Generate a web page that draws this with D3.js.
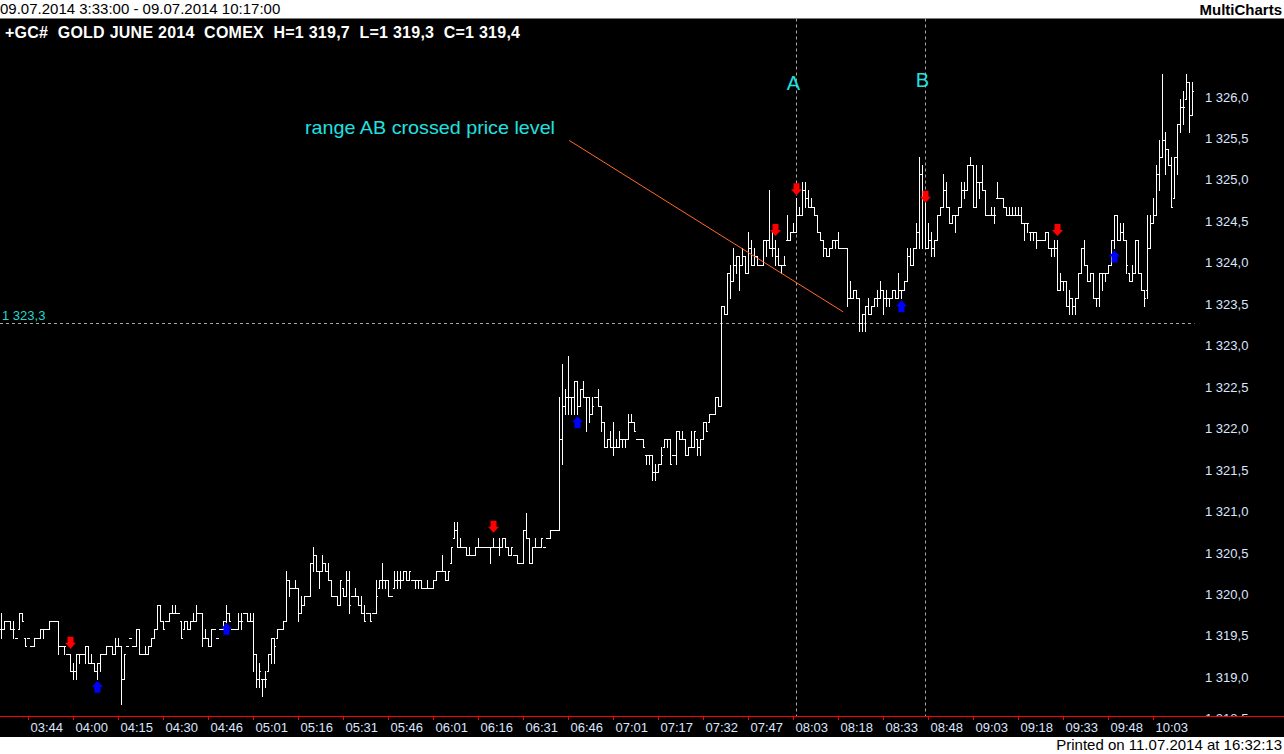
<!DOCTYPE html>
<html><head><meta charset="utf-8">
<script src="https://cdn.jsdelivr.net/npm/d3@7"></script>
<style>
html,body{margin:0;padding:0;background:#fff;overflow:hidden;}
svg{display:block;}
text{white-space:pre;}
</style></head>
<body><svg id="c" width="1284" height="754"></svg>
<script>
// ---------------- DATA ----------------
const openP = [
1319.6,1319.6,1319.7,1319.7,1319.6,1319.5,1319.6,1319.8,1319.5,1319.5,
1319.4,1319.4,1319.5,1319.5,1319.6,1319.6,1319.6,1319.7,1319.7,1319.7,
1319.4,1319.4,1319.3,1319.3,1319.1,1319.1,1319.3,1319.3,1319.3,1319.4,
1319.2,1319.2,1319.1,1319.2,1319.3,1319.3,1319.4,1319.4,1319.3,1319.4,
1319.4,1319.0,1319.4,1319.5,1319.4,1319.4,1319.6,1319.3,1319.3,1319.3,
1319.4,1319.5,1319.6,1319.9,1319.7,1319.7,1319.7,1319.8,1319.8,1319.8,
1319.7,1319.6,1319.7,1319.6,1319.7,1319.7,1319.8,1319.8,1319.5,1319.5,
1319.4,1319.6,1319.5,1319.6,1319.6,1319.7,1319.8,1319.6,1319.6,1319.6,
1319.7,1319.8,1319.8,1319.7,1319.7,1319.3,1319.0,1319.0,1319.0,1319.1,
1319.3,1319.5,1319.5,1319.6,1319.6,1319.7,1320.2,1320.1,1320.1,1320.1,
1319.8,1319.9,1320.0,1320.0,1320.4,1320.5,1320.3,1320.3,1320.4,1320.3,
1320.2,1320.0,1320.0,1319.9,1320.1,1320.0,1320.2,1320.0,1320.0,1320.0,
1319.9,1319.8,1319.8,1319.8,1319.8,1319.8,1320.1,1320.2,1320.2,1320.2,
1320.0,1320.1,1320.2,1320.2,1320.2,1320.3,1320.2,1320.2,1320.2,1320.2,
1320.2,1320.1,1320.1,1320.1,1320.1,1320.2,1320.3,1320.3,1320.3,1320.2,
1320.4,1320.7,1320.8,1320.6,1320.6,1320.6,1320.5,1320.5,1320.5,1320.6,
1320.6,1320.6,1320.6,1320.6,1320.6,1320.6,1320.6,1320.6,1320.7,1320.6,
1320.5,1320.5,1320.5,1320.4,1320.4,1320.8,1320.7,1320.4,1320.6,1320.6,
1320.6,1320.6,1320.7,1320.7,1320.8,1320.8,1320.8,1321.9,1322.3,1322.4,
1322.4,1322.4,1322.6,1322.3,1322.5,1322.4,1322.4,1322.2,1322.4,1322.4,
1322.3,1322.1,1321.8,1321.9,1321.8,1321.8,1321.8,1321.9,1321.9,1321.9,
1322.1,1322.1,1321.9,1321.9,1321.9,1321.7,1321.7,1321.7,1321.5,1321.5,
1321.6,1321.8,1321.9,1321.9,1321.7,1321.7,1322.0,1321.9,1321.9,1321.7,
1321.8,1321.8,1321.9,1321.8,1321.9,1322.1,1322.1,1322.2,1322.2,1322.4,
1322.3,1323.5,1323.4,1323.9,1323.8,1324.0,1324.1,1324.0,1324.1,1323.9,
1324.2,1324.0,1324.1,1324.0,1324.0,1324.3,1324.3,1324.2,1324.2,1324.1,
1324.0,1324.0,1324.3,1324.3,1324.4,1324.4,1324.6,1324.6,1324.9,1324.8,
1324.7,1324.7,1324.6,1324.4,1324.3,1324.2,1324.1,1324.2,1324.3,1324.3,
1324.2,1324.2,1324.2,1323.6,1323.6,1323.7,1323.6,1323.3,1323.4,1323.5,
1323.4,1323.5,1323.6,1323.6,1323.7,1323.6,1323.6,1323.6,1323.7,1323.6,
1323.7,1323.7,1323.8,1324.1,1324.0,1324.2,1324.4,1325.1,1324.8,1324.2,
1324.3,1324.2,1324.3,1324.6,1324.7,1324.9,1324.7,1324.5,1324.6,1324.6,
1324.7,1324.9,1324.9,1325.2,1325.2,1324.7,1325.0,1325.0,1324.9,1324.6,
1324.6,1324.6,1324.8,1324.8,1324.8,1324.7,1324.6,1324.6,1324.6,1324.6,
1324.6,1324.5,1324.5,1324.4,1324.4,1324.4,1324.3,1324.3,1324.3,1324.4,
1324.2,1324.2,1324.2,1323.7,1323.8,1323.8,1323.5,1323.6,1323.5,1323.6,
1323.9,1324.2,1324.0,1323.8,1323.9,1323.6,1323.6,1323.9,1323.9,1323.9,
1324.0,1324.3,1324.6,1324.3,1324.4,1324.3,1323.9,1323.8,1323.9,1324.3,
1323.9,1323.7,1323.7,1324.2,1324.5,1324.6,1325.1,1325.3,1325.5,1325.4,
1325.2,1324.8,1325.3,1325.7,1325.9,1326.0,1326.2,1325.8];
const highP = [
1319.8,1319.7,1319.7,1319.7,1319.7,1319.5,1319.8,1319.8,1319.5,1319.5,
1319.4,1319.5,1319.5,1319.6,1319.6,1319.6,1319.7,1319.7,1319.7,1319.7,
1319.4,1319.4,1319.3,1319.3,1319.2,1319.3,1319.3,1319.3,1319.4,1319.4,
1319.3,1319.2,1319.2,1319.3,1319.3,1319.4,1319.4,1319.4,1319.5,1319.5,
1319.4,1319.3,1319.4,1319.5,1319.4,1319.6,1319.6,1319.3,1319.4,1319.4,
1319.5,1319.6,1319.9,1319.9,1319.7,1319.7,1319.8,1319.9,1319.9,1319.8,
1319.7,1319.7,1319.7,1319.7,1319.8,1319.9,1319.8,1319.8,1319.6,1319.5,
1319.6,1319.6,1319.5,1319.6,1319.7,1319.9,1319.8,1319.6,1319.6,1319.8,
1319.8,1319.8,1319.8,1319.8,1319.8,1319.3,1319.2,1319.0,1319.1,1319.3,
1319.5,1319.5,1319.6,1319.6,1319.7,1320.3,1320.2,1320.1,1320.2,1320.1,
1320.0,1320.0,1320.0,1320.4,1320.6,1320.5,1320.3,1320.5,1320.4,1320.4,
1320.2,1320.0,1320.0,1320.2,1320.1,1320.3,1320.3,1320.0,1320.1,1320.0,
1320.0,1319.9,1319.8,1319.8,1319.8,1320.2,1320.2,1320.4,1320.2,1320.2,
1320.0,1320.3,1320.3,1320.3,1320.3,1320.3,1320.3,1320.2,1320.2,1320.2,
1320.2,1320.1,1320.2,1320.1,1320.2,1320.3,1320.3,1320.5,1320.3,1320.3,
1320.6,1320.9,1320.9,1320.7,1320.6,1320.6,1320.6,1320.5,1320.6,1320.7,
1320.6,1320.6,1320.6,1320.6,1320.7,1320.6,1320.7,1320.7,1320.7,1320.6,
1320.6,1320.5,1320.5,1320.4,1320.8,1321.0,1320.7,1320.6,1320.7,1320.6,
1320.7,1320.6,1320.7,1320.8,1320.8,1320.8,1322.4,1322.8,1322.5,1322.9,
1322.4,1322.6,1322.6,1322.5,1322.6,1322.4,1322.4,1322.4,1322.4,1322.5,
1322.3,1322.1,1321.9,1322.0,1322.1,1321.9,1322.0,1321.9,1321.9,1322.2,
1322.2,1322.1,1321.9,1321.9,1321.9,1321.7,1321.7,1321.7,1321.6,1321.6,
1321.8,1321.9,1321.9,1321.9,1321.7,1322.0,1322.0,1322.0,1321.9,1321.8,
1322.0,1322.0,1321.9,1321.9,1322.1,1322.1,1322.2,1322.2,1322.4,1322.4,
1323.5,1323.5,1323.9,1324.0,1324.2,1324.1,1324.1,1324.2,1324.1,1324.4,
1324.3,1324.2,1324.1,1324.0,1324.3,1324.3,1324.9,1324.4,1324.3,1324.2,
1324.0,1324.1,1324.6,1324.4,1324.5,1324.8,1324.7,1325.0,1325.0,1324.9,
1324.8,1324.7,1324.6,1324.4,1324.3,1324.2,1324.2,1324.3,1324.3,1324.4,
1324.2,1324.2,1324.2,1323.8,1323.7,1323.7,1323.6,1323.4,1323.5,1323.6,
1323.5,1323.6,1323.7,1323.8,1323.7,1323.7,1323.6,1323.7,1323.7,1323.9,
1323.7,1323.8,1324.2,1324.2,1324.2,1324.5,1325.3,1325.2,1324.8,1324.5,
1324.4,1324.3,1324.6,1324.7,1325.1,1325.0,1324.7,1324.6,1324.6,1324.7,
1325.0,1325.0,1325.2,1325.3,1325.2,1325.2,1325.0,1325.2,1324.9,1324.6,
1324.7,1324.7,1325.0,1324.8,1324.8,1324.7,1324.7,1324.7,1324.7,1324.7,
1324.7,1324.5,1324.5,1324.4,1324.4,1324.4,1324.3,1324.3,1324.4,1324.4,
1324.2,1324.3,1324.3,1323.9,1323.8,1323.8,1323.7,1323.6,1323.6,1323.9,
1324.2,1324.3,1324.0,1323.9,1323.9,1323.6,1323.9,1323.9,1323.9,1324.0,
1324.3,1324.6,1324.6,1324.5,1324.5,1324.3,1323.9,1324.0,1324.3,1324.3,
1323.9,1323.7,1324.6,1324.6,1324.8,1325.2,1325.5,1326.3,1325.6,1325.4,
1325.3,1325.3,1325.7,1326.0,1326.1,1326.3,1326.2,1326.2];
const lowP = [
1319.5,1319.6,1319.7,1319.6,1319.5,1319.5,1319.6,1319.7,1319.4,1319.5,
1319.4,1319.4,1319.5,1319.5,1319.5,1319.6,1319.6,1319.7,1319.7,1319.3,
1319.4,1319.3,1319.3,1319.1,1319.0,1319.0,1319.2,1319.3,1319.2,1319.2,
1319.2,1319.1,1319.0,1319.1,1319.3,1319.3,1319.4,1319.3,1319.3,1319.4,
1318.7,1319.0,1319.4,1319.5,1319.4,1319.4,1319.3,1319.3,1319.3,1319.3,
1319.4,1319.5,1319.6,1319.7,1319.6,1319.7,1319.7,1319.8,1319.8,1319.8,
1319.5,1319.6,1319.6,1319.6,1319.7,1319.7,1319.8,1319.4,1319.5,1319.4,
1319.4,1319.6,1319.5,1319.6,1319.6,1319.6,1319.7,1319.6,1319.6,1319.6,
1319.6,1319.8,1319.7,1319.7,1319.1,1318.9,1318.9,1318.8,1318.9,1319.1,
1319.2,1319.2,1319.5,1319.6,1319.6,1319.7,1320.0,1320.1,1320.1,1319.7,
1319.8,1319.9,1320.0,1320.0,1320.3,1320.3,1320.1,1320.3,1320.3,1320.2,
1320.0,1320.0,1319.9,1319.9,1320.0,1320.0,1319.8,1320.0,1320.0,1319.9,
1319.8,1319.7,1319.8,1319.7,1319.8,1319.8,1320.1,1320.1,1320.1,1320.0,
1320.0,1320.1,1320.1,1320.1,1320.2,1320.2,1320.2,1320.2,1320.1,1320.1,
1320.1,1320.1,1320.1,1320.1,1320.1,1320.2,1320.3,1320.3,1320.2,1320.2,
1320.4,1320.7,1320.6,1320.6,1320.6,1320.5,1320.5,1320.5,1320.5,1320.6,
1320.6,1320.6,1320.6,1320.4,1320.6,1320.6,1320.5,1320.6,1320.6,1320.5,
1320.5,1320.5,1320.4,1320.4,1320.4,1320.7,1320.4,1320.4,1320.6,1320.6,
1320.6,1320.6,1320.7,1320.7,1320.8,1320.8,1320.8,1321.6,1322.2,1322.2,
1322.2,1322.2,1322.2,1322.3,1322.4,1322.0,1322.1,1322.2,1322.4,1322.3,
1322.0,1321.8,1321.8,1321.8,1321.7,1321.8,1321.8,1321.8,1321.8,1321.9,
1322.1,1322.0,1321.9,1321.9,1321.8,1321.6,1321.6,1321.4,1321.4,1321.5,
1321.6,1321.8,1321.8,1321.6,1321.7,1321.6,1321.9,1321.9,1321.7,1321.7,
1321.8,1321.8,1321.7,1321.7,1321.9,1322.0,1322.1,1322.2,1322.2,1322.3,
1322.3,1323.4,1323.4,1323.6,1323.8,1323.9,1323.7,1324.0,1323.9,1323.9,
1324.0,1324.0,1324.0,1324.0,1324.0,1324.1,1324.2,1324.1,1324.0,1324.0,
1323.9,1324.0,1324.3,1324.3,1324.4,1324.4,1324.6,1324.6,1324.7,1324.7,
1324.7,1324.6,1324.4,1324.3,1324.1,1324.1,1324.1,1324.2,1324.2,1324.2,
1324.2,1324.2,1323.5,1323.6,1323.6,1323.6,1323.2,1323.2,1323.2,1323.4,
1323.4,1323.5,1323.5,1323.6,1323.4,1323.5,1323.5,1323.6,1323.6,1323.6,
1323.6,1323.7,1323.8,1324.0,1324.0,1324.2,1324.2,1324.2,1324.2,1324.2,
1324.1,1324.1,1324.3,1324.6,1324.7,1324.7,1324.5,1324.5,1324.4,1324.6,
1324.7,1324.8,1324.9,1325.2,1324.7,1324.7,1324.8,1324.9,1324.6,1324.6,
1324.6,1324.5,1324.8,1324.8,1324.7,1324.6,1324.6,1324.6,1324.6,1324.6,
1324.5,1324.3,1324.4,1324.3,1324.3,1324.2,1324.3,1324.3,1324.3,1324.2,
1324.1,1324.1,1323.7,1323.7,1323.7,1323.5,1323.4,1323.4,1323.4,1323.6,
1323.9,1324.0,1323.8,1323.8,1323.6,1323.5,1323.5,1323.7,1323.8,1323.9,
1324.0,1324.2,1324.3,1324.3,1324.3,1323.9,1323.8,1323.8,1323.9,1323.9,
1323.7,1323.5,1323.6,1324.2,1324.5,1324.6,1324.9,1325.3,1325.1,1325.2,
1324.7,1324.8,1325.1,1325.6,1325.7,1326.0,1325.6,1325.8];
const closeP = [
1319.6,1319.7,1319.7,1319.6,1319.6,1319.5,1319.8,1319.7,1319.4,1319.5,
1319.4,1319.5,1319.5,1319.6,1319.6,1319.6,1319.7,1319.7,1319.7,1319.4,
1319.4,1319.4,1319.3,1319.1,1319.1,1319.3,1319.3,1319.3,1319.4,1319.2,
1319.2,1319.1,1319.2,1319.3,1319.3,1319.4,1319.4,1319.3,1319.4,1319.4,
1319.0,1319.3,1319.4,1319.5,1319.4,1319.6,1319.3,1319.3,1319.3,1319.4,
1319.5,1319.6,1319.9,1319.7,1319.6,1319.7,1319.8,1319.8,1319.8,1319.8,
1319.5,1319.7,1319.6,1319.7,1319.7,1319.8,1319.8,1319.5,1319.5,1319.4,
1319.6,1319.6,1319.5,1319.6,1319.7,1319.8,1319.7,1319.6,1319.6,1319.7,
1319.7,1319.8,1319.7,1319.7,1319.3,1319.0,1319.1,1319.0,1319.0,1319.3,
1319.5,1319.4,1319.6,1319.6,1319.7,1320.2,1320.1,1320.1,1320.1,1319.8,
1319.9,1320.0,1320.0,1320.4,1320.5,1320.3,1320.3,1320.4,1320.3,1320.2,
1320.0,1320.0,1319.9,1320.2,1320.0,1320.2,1319.9,1320.0,1320.0,1319.9,
1319.8,1319.7,1319.8,1319.7,1319.8,1320.0,1320.2,1320.2,1320.2,1320.0,
1320.0,1320.2,1320.2,1320.2,1320.3,1320.2,1320.3,1320.2,1320.2,1320.2,
1320.1,1320.1,1320.1,1320.1,1320.2,1320.3,1320.3,1320.3,1320.2,1320.3,
1320.6,1320.8,1320.6,1320.6,1320.6,1320.5,1320.5,1320.5,1320.6,1320.6,
1320.6,1320.6,1320.6,1320.6,1320.6,1320.6,1320.6,1320.7,1320.6,1320.5,
1320.6,1320.5,1320.4,1320.4,1320.8,1320.7,1320.4,1320.6,1320.6,1320.6,
1320.7,1320.6,1320.7,1320.8,1320.8,1320.8,1321.9,1322.3,1322.4,1322.4,
1322.4,1322.6,1322.3,1322.5,1322.4,1322.4,1322.2,1322.3,1322.4,1322.3,
1322.1,1321.8,1321.9,1321.8,1321.8,1321.8,1321.9,1321.9,1321.9,1322.1,
1322.1,1322.0,1321.9,1321.9,1321.8,1321.7,1321.7,1321.5,1321.5,1321.6,
1321.7,1321.9,1321.9,1321.6,1321.7,1322.0,1321.9,1321.9,1321.7,1321.8,
1321.8,1322.0,1321.8,1321.9,1322.1,1322.0,1322.2,1322.2,1322.4,1322.3,
1323.5,1323.4,1323.9,1323.8,1324.0,1324.1,1324.0,1324.1,1323.9,1324.2,
1324.0,1324.1,1324.0,1324.0,1324.3,1324.3,1324.2,1324.2,1324.1,1324.0,
1324.0,1324.0,1324.3,1324.4,1324.4,1324.6,1324.6,1324.9,1324.8,1324.7,
1324.7,1324.6,1324.4,1324.3,1324.2,1324.1,1324.2,1324.3,1324.3,1324.2,
1324.2,1324.2,1323.6,1323.6,1323.7,1323.6,1323.3,1323.4,1323.5,1323.4,
1323.5,1323.6,1323.6,1323.7,1323.6,1323.6,1323.6,1323.7,1323.6,1323.7,
1323.7,1323.8,1324.1,1324.0,1324.2,1324.4,1325.1,1324.8,1324.2,1324.3,
1324.2,1324.3,1324.6,1324.7,1324.9,1324.7,1324.5,1324.6,1324.6,1324.7,
1324.9,1324.9,1325.2,1325.2,1324.7,1325.0,1325.0,1324.9,1324.6,1324.6,
1324.6,1324.6,1324.8,1324.8,1324.7,1324.6,1324.6,1324.6,1324.6,1324.6,
1324.5,1324.5,1324.5,1324.4,1324.4,1324.3,1324.3,1324.3,1324.4,1324.2,
1324.2,1324.2,1323.7,1323.8,1323.8,1323.5,1323.6,1323.5,1323.6,1323.9,
1324.2,1324.0,1323.8,1323.9,1323.6,1323.6,1323.9,1323.9,1323.9,1324.0,
1324.3,1324.6,1324.3,1324.4,1324.3,1324.0,1323.8,1323.9,1324.3,1323.9,
1323.7,1323.6,1324.2,1324.5,1324.6,1325.1,1325.3,1325.5,1325.4,1325.2,
1324.7,1325.3,1325.7,1325.9,1325.9,1326.2,1325.8,1326.1];

const tickLabels = ["03:44","04:00","04:15","04:30","04:46","05:01","05:16","05:31","05:46",
  "06:01","06:16","06:31","06:46","07:01","07:17","07:32","07:47","08:03","08:18","08:33",
  "08:48","09:03","09:18","09:33","09:48","10:03"];
const tickBars = [9,24,39,54,69,84,99,114,129,144,159,174,189,204,219,234,249,264,279,294,
  309,324,339,354,369,384];
const priceTicks = [1318.5,1319.0,1319.5,1320.0,1320.5,1321.0,1321.5,1322.0,1322.5,
  1323.0,1323.5,1324.0,1324.5,1325.0,1325.5,1326.0];

const sellBars = [23,164,258,265,308,352];
const sellPrices = [1319.44,1320.84,1324.42,1324.91,1324.82,1324.42];
const buyBars = [32,75,192,300,371];
const buyPrices = [1318.91,1319.61,1322.10,1323.50,1324.10];

const levelPrice = 1323.3;
const markBars = [265,308];
const markNames = ["A","B"];
const trendBars = [189.2,280.6];
const trendPrices = [1325.50,1323.43];

// ---------------- LAYOUT ----------------
(function(){
const W=1284,H=754;
const plotTop=18.5, axisY=716, footTop=737;
const svg=d3.select("#c");
const x=d3.scaleLinear().domain([0,openP.length-1]).range([1.5,1.5+3*(openP.length-1)]);
const y=d3.scaleLinear().domain([1318.5,1326.0]).range([98.9+7.5*82.9,98.9]);
const fmt=d3.formatLocale({decimal:",",thousands:" ",grouping:[3],currency:["",""]}).format(",.1f");

svg.append("rect").attr("width",W).attr("height",H).attr("fill","#fff");
svg.append("rect").attr("x",0).attr("y",plotTop).attr("width",W).attr("height",footTop-plotTop).attr("fill","#000");

// header
svg.append("text").attr("x",0).attr("y",14).attr("font-family","Liberation Sans Narrow, Liberation Sans").attr("font-size",15)
  .attr("fill","#000").text("09.07.2014 3:33:00 - 09.07.2014 10:17:00");
svg.append("text").attr("x",1282).attr("y",15).attr("text-anchor","end").attr("font-family","Liberation Sans")
  .attr("font-weight","bold").attr("font-size",15).attr("fill","#000").text("MultiCharts");
svg.append("text").attr("x",1282).attr("y",750).attr("text-anchor","end").attr("font-family","Liberation Sans Narrow, Liberation Sans")
  .attr("font-size",15).attr("fill","#000").text("Printed on 11.07.2014 at 16:32:13");

svg.append("text").attr("x",5).attr("y",38).attr("font-family","Liberation Sans").attr("font-weight","bold")
  .attr("font-size",16).attr("textLength",515).attr("lengthAdjust","spacing").attr("fill","#fff")
  .text("+GC#  GOLD JUNE 2014  COMEX  H=1 319,7  L=1 319,3  C=1 319,4");

const defs=svg.append("defs");
defs.append("clipPath").attr("id","plot").append("rect").attr("x",0).attr("y",plotTop).attr("width",W).attr("height",axisY-plotTop);

const g=svg.append("g").attr("clip-path","url(#plot)");

// price axis labels (right)
g.selectAll("text.yl").data(priceTicks).join("text").attr("class","yl")
  .attr("x",1205).attr("y",d=>y(d)-2).attr("dy","0.36em")
  .attr("font-family","Liberation Sans").attr("font-size",13).attr("fill","#dce6ff").text(d=>fmt(d));

// dashed reference lines
g.append("line").attr("x1",0).attr("x2",x(openP.length-1)+2).attr("y1",Math.round(y(levelPrice))+0.5).attr("y2",Math.round(y(levelPrice))+0.5)
  .attr("stroke","#a8a8a8").attr("stroke-dasharray","3,3");
g.selectAll("line.mk").data(markBars).join("line").attr("class","mk")
  .attr("x1",d=>x(d)).attr("x2",d=>x(d)).attr("y1",plotTop).attr("y2",axisY)
  .attr("stroke","#a8a8a8").attr("stroke-dasharray","3,3");

// OHLC bars
const bars=g.append("g").attr("fill","#fff").attr("shape-rendering","crispEdges");
const idx=d3.range(openP.length);
bars.selectAll("rect.v").data(idx).join("rect").attr("class","v")
  .attr("x",i=>x(i)-0.5).attr("y",i=>Math.round(y(highP[i])))
  .attr("width",1).attr("height",i=>Math.round(y(lowP[i]))-Math.round(y(highP[i]))+1);
bars.selectAll("rect.o").data(idx).join("rect").attr("class","o")
  .attr("x",i=>x(i)-1.5).attr("y",i=>Math.round(y(openP[i]))).attr("width",1).attr("height",1);
bars.selectAll("rect.c").data(idx).join("rect").attr("class","c")
  .attr("x",i=>x(i)+0.5).attr("y",i=>Math.round(y(closeP[i]))).attr("width",1).attr("height",1);

// signal arrows
function downArrow(cx,cy){return `M${cx-3},${cy-6}H${cx+3}V${cy}H${cx+5.5}L${cx},${cy+6}L${cx-5.5},${cy}H${cx-3}Z`;}
function upArrow(cx,cy){return `M${cx-3},${cy+6}H${cx+3}V${cy}H${cx+5.5}L${cx},${cy-6}L${cx-5.5},${cy}H${cx-3}Z`;}
g.selectAll("path.sell").data(sellBars).join("path").attr("class","sell")
  .attr("d",(b,i)=>downArrow(x(b),y(sellPrices[i]))).attr("fill","#ff0000");
g.selectAll("path.buy").data(buyBars).join("path").attr("class","buy")
  .attr("d",(b,i)=>upArrow(x(b),y(buyPrices[i]))).attr("fill","#0000ff");

// trend line
g.append("line").attr("x1",x(trendBars[0])).attr("y1",y(trendPrices[0])).attr("x2",x(trendBars[1])).attr("y2",y(trendPrices[1]))
  .attr("stroke","#ff6a28").attr("stroke-width",1);

// annotation texts
g.append("text").attr("x",305).attr("y",y(1325.66)).attr("dy","0.36em").attr("font-family","Liberation Sans")
  .attr("font-size",19).attr("textLength",250).attr("lengthAdjust","spacingAndGlyphs")
  .attr("fill","#22e0e0").text("range AB crossed price level");
g.selectAll("text.mn").data(markBars).join("text").attr("class","mn")
  .attr("x",d=>x(d)-3).attr("y",(d,i)=>i===0?83:80).attr("dy","0.36em").attr("text-anchor","middle")
  .attr("font-family","Liberation Sans").attr("font-size",20).attr("fill","#22e0e0").text((d,i)=>markNames[i]);
g.append("text").attr("x",2).attr("y",y(levelPrice)-7).attr("dy","0.36em").attr("font-family","Liberation Sans")
  .attr("font-size",13).attr("fill","#22d8d0").text(fmt(levelPrice));

// time axis
svg.append("line").attr("x1",0).attr("x2",W).attr("y1",axisY+0.5).attr("y2",axisY+0.5).attr("stroke","#ff0000");
svg.selectAll("line.xt").data(tickBars).join("line").attr("class","xt")
  .attr("x1",d=>x(d)).attr("x2",d=>x(d)).attr("y1",axisY).attr("y2",axisY+4).attr("stroke","#ff0000");
svg.selectAll("text.xl").data(tickBars).join("text").attr("class","xl")
  .attr("x",d=>x(d)+2).attr("y",732).attr("font-family","Liberation Sans").attr("font-size",13)
  .attr("fill","#dce6ff").text((d,i)=>tickLabels[i]);
})();
</script>
</body></html>
